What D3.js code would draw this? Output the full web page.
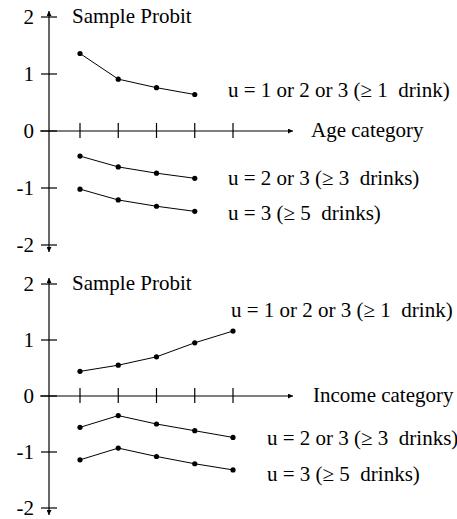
<!DOCTYPE html>
<html>
<head>
<meta charset="utf-8">
<script src="https://cdnjs.cloudflare.com/ajax/libs/d3/7.8.5/d3.min.js"></script>
<style>
  body { margin: 0; background: #fff; }
  svg text { font-family: "Liberation Serif", "Times New Roman", serif; font-size: 21px; fill: #000; white-space: pre; }
</style>
</head>
<body>
<svg id="chart" width="457" height="519"></svg>
<script>
// categories on the x axis (5 ticks in each panel)
var categories = [1, 2, 3, 4, 5];
var yTicks = [2, 1, 0, -1, -2];

// sample probits by age category (4 groups)
var ageCats = [1, 2, 3, 4];
var ageAny = [1.36, 0.91, 0.76, 0.64];
var ageThree = [-0.44, -0.63, -0.74, -0.83];
var ageFive = [-1.02, -1.21, -1.32, -1.41];

// sample probits by income category (5 groups)
var incomeCats = [1, 2, 3, 4, 5];
var incomeAny = [0.44, 0.55, 0.70, 0.95, 1.16];
var incomeThree = [-0.56, -0.35, -0.50, -0.62, -0.74];
var incomeFive = [-1.14, -0.93, -1.08, -1.21, -1.32];

var seriesLabels = [
    "u = 1 or 2 or 3 (\u2265 1  drink)",
    "u = 2 or 3 (\u2265 3  drinks)",
    "u = 3 (\u2265 5  drinks)"
];

var svg = d3.select("#chart");

var defs = svg.append("defs");
defs.append("marker")
    .attr("id", "arrow")
    .attr("viewBox", "0 0 10 10")
    .attr("refX", 10).attr("refY", 5)
    .attr("markerWidth", 7).attr("markerHeight", 5)
    .attr("markerUnits", "userSpaceOnUse")
    .attr("orient", "auto")
    .append("path")
    .attr("d", "M0,0 L10,5 L0,10 z")
    .attr("fill", "#000");

var x = d3.scaleLinear().domain([1, 5]).range([80, 233]);

function drawPanel(g, opts) {
    var y = d3.scaleLinear().domain([-2, 2]).range([opts.yBottom, opts.yTop]);
    var axisX = 49;

    // y axis with arrows both ways
    g.append("line")
        .attr("x1", axisX).attr("x2", axisX)
        .attr("y1", y(0)).attr("y2", y(2) - 6)
        .attr("stroke", "#000").attr("stroke-width", 1.2)
        .attr("marker-end", "url(#arrow)");
    g.append("line")
        .attr("x1", axisX).attr("x2", axisX)
        .attr("y1", y(0)).attr("y2", y(-2) + 7)
        .attr("stroke", "#000").attr("stroke-width", 1.2)
        .attr("marker-end", "url(#arrow)");

    g.selectAll(".ytick").data(yTicks).enter().append("line")
        .attr("x1", axisX - 8).attr("x2", axisX + 8)
        .attr("y1", function(d) { return y(d); })
        .attr("y2", function(d) { return y(d); })
        .attr("stroke", "#000").attr("stroke-width", 1.2);

    g.selectAll(".ylab").data(yTicks).enter().append("text")
        .attr("x", 34)
        .attr("y", function(d) { return y(d) + 7; })
        .attr("text-anchor", "end")
        .text(function(d) { return d; });

    // x axis with arrow
    g.append("line")
        .attr("x1", 40).attr("x2", 293)
        .attr("y1", y(0)).attr("y2", y(0))
        .attr("stroke", "#000").attr("stroke-width", 1.2)
        .attr("marker-end", "url(#arrow)");

    g.selectAll(".xtick").data(categories).enter().append("line")
        .attr("x1", function(d) { return x(d); })
        .attr("x2", function(d) { return x(d); })
        .attr("y1", y(0) - 8).attr("y2", y(0) + 7)
        .attr("stroke", "#000").attr("stroke-width", 1.2);

    g.append("text")
        .attr("x", 72).attr("y", y(2) + 6)
        .text("Sample Probit");

    g.append("text")
        .attr("x", opts.xTitleX).attr("y", y(0) + 6)
        .text(opts.xTitle);

    var line = d3.line()
        .x(function(d) { return x(d[0]); })
        .y(function(d) { return y(d[1]); });

    opts.series.forEach(function(s, i) {
        var pts = d3.zip(opts.cats, s);
        g.append("path")
            .attr("d", line(pts))
            .attr("fill", "none")
            .attr("stroke", "#000").attr("stroke-width", 1);
        g.selectAll(".dot" + i).data(pts).enter().append("circle")
            .attr("cx", function(d) { return x(d[0]); })
            .attr("cy", function(d) { return y(d[1]); })
            .attr("r", 2.6)
            .attr("fill", "#000");
        g.append("text")
            .attr("x", opts.labelPos[i][0])
            .attr("y", opts.labelPos[i][1])
            .text(seriesLabels[i]);
    });
}

drawPanel(svg.append("g"), {
    yTop: 17, yBottom: 245,
    cats: ageCats,
    series: [ageAny, ageThree, ageFive],
    xTitle: "Age category", xTitleX: 311,
    labelPos: [[228, 97], [228, 185], [228, 220]]
});

drawPanel(svg.append("g"), {
    yTop: 284, yBottom: 508,
    cats: incomeCats,
    series: [incomeAny, incomeThree, incomeFive],
    xTitle: "Income category", xTitleX: 313,
    labelPos: [[231, 317], [267, 445], [267, 481]]
});
</script>
</body>
</html>
